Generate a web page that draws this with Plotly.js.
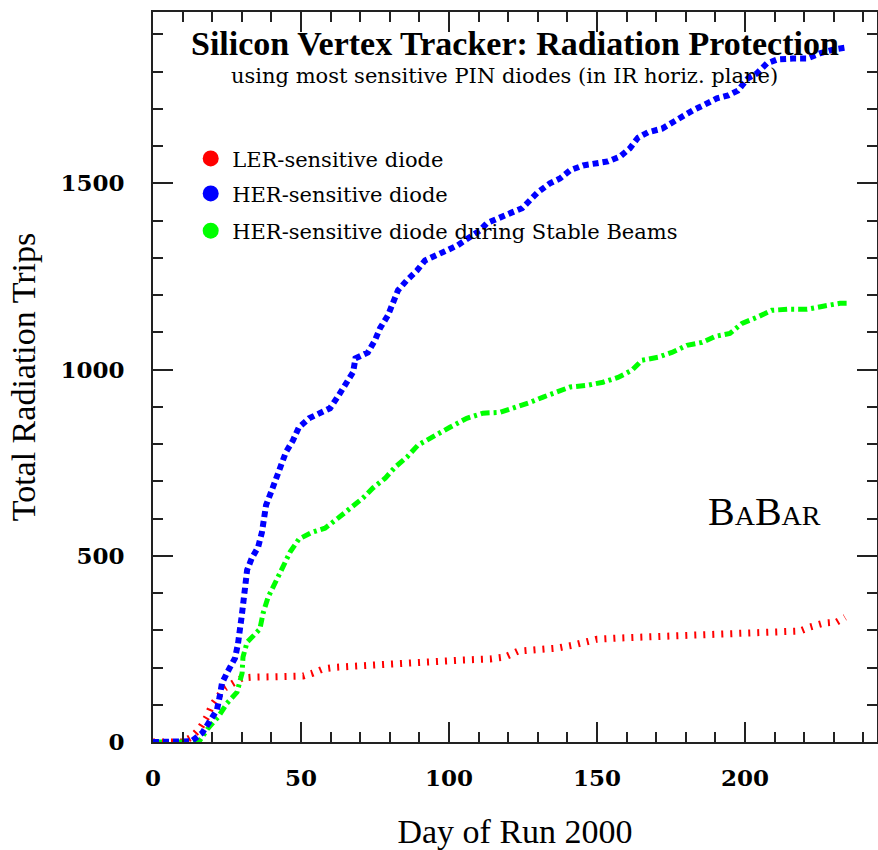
<!DOCTYPE html>
<html>
<head>
<meta charset="utf-8">
<script src="https://cdn.plot.ly/plotly-3.0.1.min.js"></script>
<style>html,body{margin:0;padding:0;background:#fff;}#chart{width:878px;height:850px;}</style>
</head>
<body>
<div id="chart"></div>
<script>
// Day of run 2000 and cumulative radiation trips
const herDays = [0,7,13,16.6,19.3,21.6,22.5,23.3,25.3,27.7,28.7,29.5,30,30.6,31.1,31.8,33.4,35.5,36.8,37.4,38.2,39.9,41.6,43.6,44.9,47.3,49.3,52.7,56.4,59.8,62.5,65,67.6,68.4,72.6,75,76.7,79.4,81.1,82.8,85.8,89.2,91.9,95.3,99.3,103,106.4,110.5,112.8,117.2,121.3,124.7,127.4,130,134.1,137.5,140.9,145.3,150,153.7,157.8,161.1,163.9,167.2,172,175.3,179.1,182.4,185.8,190.5,194.3,197.6,201,204,207.4,211.1,216.2,221,225.3,229.7,234.5];
const herTrips = [0,0,2,24,54,86,121,158,190,225,263,300,340,380,421,462,494,523,563,601,636,671,711,746,778,810,845,869,883,896,928,963,993,1030,1046,1079,1111,1146,1181,1213,1240,1266,1293,1304,1320,1334,1352,1374,1393,1406,1422,1433,1454,1476,1500,1513,1535,1548,1554,1559,1572,1594,1623,1637,1647,1663,1680,1696,1709,1728,1736,1749,1782,1795,1822,1833,1835,1835,1849,1859,1865];

const stableDays = [0,10,15.9,18.6,22,25,28.4,30.1,30.4,31.8,36.1,37.2,38.9,41.6,43.9,46.3,49.3,53.7,58.1,62.5,66.6,70.9,74.3,78.4,81.8,85.8,89.5,94.6,100.3,106,111.5,117.2,121.6,127.4,131.8,136.5,140.9,147,152,157.1,161.8,165.2,170.6,175.3,180.4,185.5,189.9,194.9,199,204,209,214.5,221,226.4,232.1,234.8];
const stableTrips = [0,0,5,37,67,104,134,185,228,268,303,346,389,429,470,510,545,563,574,601,628,655,682,708,738,765,797,818,845,869,883,885,896,912,926,939,953,958,966,979,998,1025,1033,1046,1065,1073,1089,1097,1124,1140,1159,1162,1162,1170,1178,1178];

const lerDays = [0,10,13,15.9,18.2,19.9,22,24.3,27.7,30.1,33.8,39.5,47.3,50.7,54,57.4,62.2,68.9,77.7,86.8,95.9,104.7,113.9,118.9,123.3,130.7,136.5,141.9,146.6,150,156.8,165.5,172.3,178,189.2,196,200.7,206,211.8,218.6,222,226.4,231,233.8];
const lerTrips = [0,0,13,37,67,99,121,145,161,172,174,174,174,177,185,196,201,204,212,215,217,220,223,228,244,247,252,260,268,276,279,282,282,287,287,290,295,295,298,298,309,319,322,335];

const seriesNames = ["LER-sensitive diode","HER-sensitive diode","HER-sensitive diode during Stable Beams"];
const seriesColors = ["#ff0000","#0000ff","#00ff00"];
const xTitle = "Day of Run 2000";
const yTitle = "Total Radiation Trips";
const mainTitle = "Silicon Vertex Tracker: Radiation Protection";
const subTitle = "using most sensitive PIN diodes (in IR horiz. plane)";

const traces = [
  {x: lerDays, y: lerTrips, mode: "lines", showlegend: false,
   line: {color: seriesColors[0], width: 7, dash: "2px,7px"}},
  {x: stableDays, y: stableTrips, mode: "lines", showlegend: false,
   line: {color: seriesColors[2], width: 5, dash: "9px,4px,3px,4px"}},
  {x: herDays, y: herTrips, mode: "lines", showlegend: false,
   line: {color: seriesColors[1], width: 6, dash: "6px,4px"}},
  // legend-only entries
  {x: [null], y: [null], mode: "markers", name: seriesNames[0], legend: "legend",
   marker: {color: seriesColors[0], size: 16, symbol: "circle"}},
  {x: [null], y: [null], mode: "markers", name: seriesNames[1], legend: "legend2",
   marker: {color: seriesColors[1], size: 16, symbol: "circle"}},
  {x: [null], y: [null], mode: "markers", name: seriesNames[2], legend: "legend3",
   marker: {color: seriesColors[2], size: 16, symbol: "circle"}}
];

const axisCommon = {
  showline: true, linecolor: "#222", linewidth: 2, mirror: "allticks",
  ticks: "inside", ticklen: 20, tickwidth: 2, tickcolor: "#222",
  showgrid: false, zeroline: false,
  tickfont: {family: "DejaVu Serif", size: 23, color: "#000", weight: "bold"}
};

const legendCommon = {
  x: 0.05, xanchor: "left", yanchor: "middle", bgcolor: "rgba(0,0,0,0)",
  font: {family: "DejaVu Serif", size: 21, color: "#000"}, itemwidth: 33
};

const layout = {
  width: 878, height: 850,
  margin: {l: 153, r: 1, t: 12, b: 108},
  paper_bgcolor: "#fff", plot_bgcolor: "#fff",
  xaxis: Object.assign({}, axisCommon, {
    range: [0, 244.6], dtick: 50, tick0: 0,
    minor: {dtick: 10, ticklen: 10, tickwidth: 2, tickcolor: "#222", ticks: "inside", showgrid: false},
    ticklabelstandoff: 14,
    title: {text: xTitle, standoff: 30, font: {family: "Liberation Serif", size: 34, color: "#000"}}
  }),
  yaxis: Object.assign({}, axisCommon, {
    range: [0, 1960], dtick: 500, tick0: 0,
    minor: {dtick: 100, ticklen: 10, tickwidth: 2, tickcolor: "#222", ticks: "inside", showgrid: false},
    ticklabelstandoff: 22,
    title: {text: yTitle, standoff: 14, font: {family: "Liberation Serif", size: 34, color: "#000"}}
  }),
  legend: Object.assign({}, legendCommon, {y: 0.799}),
  legend2: Object.assign({}, legendCommon, {y: 0.751}),
  legend3: Object.assign({}, legendCommon, {y: 0.700}),
  showlegend: true,
  annotations: [
    {xref: "paper", yref: "paper", x: 0.5, y: 0.957, xanchor: "center", yanchor: "middle",
     text: mainTitle, showarrow: false,
     font: {family: "Liberation Serif", size: 34, color: "#000", weight: "bold"}},
    {xref: "paper", yref: "paper", x: 0.485, y: 0.912, xanchor: "center", yanchor: "middle",
     text: subTitle, showarrow: false,
     font: {family: "DejaVu Serif", size: 21, color: "#000"}},
    {xref: "paper", yref: "paper", x: 0.845, y: 0.316, xanchor: "center", yanchor: "middle",
     text: "B<span style='font-size:28px'>A</span>B<span style='font-size:28px'>AR</span>", showarrow: false,
     font: {family: "Liberation Serif", size: 40, color: "#000"}}
  ]
};

Plotly.newPlot("chart", traces, layout, {displayModeBar: false, staticPlot: true});
</script>
</body>
</html>
